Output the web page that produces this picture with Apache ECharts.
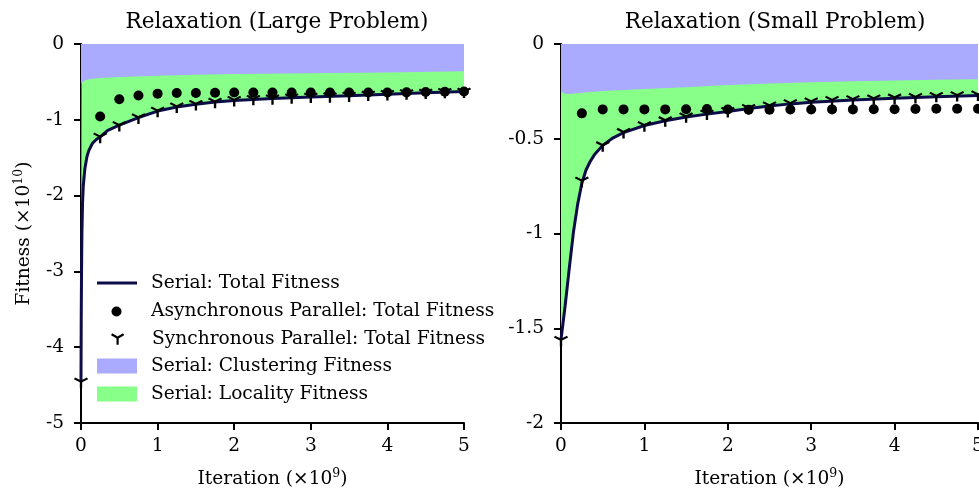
<!DOCTYPE html>
<html>
<head>
<meta charset="utf-8">
<script src="https://cdn.jsdelivr.net/npm/echarts@6/dist/echarts.min.js"></script>
<style>html,body{margin:0;padding:0;background:#fff}#c{width:979px;height:490px}</style>
</head>
<body>
<div id="c"></div>
<script>
// ---------- data ----------
const xTicks = [0, 1, 2, 3, 4, 5];
const stepX = [0.25,0.5,0.75,1.0,1.25,1.5,1.75,2.0,2.25,2.5,2.75,3.0,3.25,3.5,3.75,4.0,4.25,4.5,4.75,5.0];

// Large problem
const largeSerialX = [0,0.003,0.007,0.012,0.02,0.03,0.05,0.075,0.1,0.15,0.2,0.25,0.35,0.5,0.75,1.0,1.25,1.5,1.75,2.0,2.5,3.0,3.5,4.0,4.5,5.0];
const largeSerialY = [-4.45,-3.6,-3.0,-2.5,-2.1,-1.87,-1.65,-1.5,-1.41,-1.31,-1.26,-1.225,-1.14,-1.07,-0.97,-0.885,-0.83,-0.795,-0.765,-0.745,-0.72,-0.70,-0.683,-0.662,-0.643,-0.627];
const largeClusterX = [0,0.02,0.05,0.1,0.25,0.5,1.0,1.5,2.0,3.0,4.0,5.0];
const largeClusterY = [-0.52,-0.50,-0.48,-0.465,-0.45,-0.435,-0.42,-0.405,-0.395,-0.385,-0.375,-0.36];
const largeAsyncY = [-0.956,-0.73,-0.68,-0.655,-0.646,-0.646,-0.642,-0.64,-0.64,-0.64,-0.64,-0.64,-0.64,-0.64,-0.64,-0.64,-0.638,-0.633,-0.63,-0.627];
const largeSyncX = [0].concat(stepX);
const largeSyncY = [-4.45,-1.22,-1.066,-0.965,-0.876,-0.82,-0.787,-0.757,-0.735,-0.72,-0.713,-0.70,-0.69,-0.686,-0.677,-0.664,-0.655,-0.646,-0.637,-0.628,-0.624];

// Small problem
const smallSerialX = [0,0.025,0.05,0.075,0.1,0.15,0.2,0.25,0.3,0.35,0.4,0.5,0.625,0.75,1.0,1.25,1.5,1.75,2.0,2.25,2.5,2.75,3.0,3.5,4.0,4.5,5.0];
const smallSerialY = [-1.56,-1.47,-1.38,-1.28,-1.18,-0.99,-0.845,-0.735,-0.665,-0.62,-0.585,-0.535,-0.495,-0.468,-0.43,-0.405,-0.385,-0.37,-0.356,-0.34,-0.327,-0.316,-0.307,-0.295,-0.286,-0.279,-0.272];
const smallClusterX = [0,0.05,0.12,0.25,0.5,1.0,1.5,2.0,2.5,3.0,3.5,4.0,4.5,5.0];
const smallClusterY = [-0.252,-0.262,-0.264,-0.257,-0.248,-0.238,-0.228,-0.217,-0.208,-0.202,-0.197,-0.193,-0.189,-0.186];
const smallAsyncY = [-0.366,-0.345,-0.345,-0.345,-0.345,-0.344,-0.343,-0.346,-0.347,-0.347,-0.346,-0.346,-0.345,-0.345,-0.344,-0.344,-0.343,-0.342,-0.342,-0.342];
const smallSyncX = [0].concat(stepX);
const smallSyncY = [-1.56,-0.72,-0.533,-0.463,-0.427,-0.401,-0.38,-0.366,-0.352,-0.336,-0.323,-0.311,-0.302,-0.294,-0.289,-0.285,-0.281,-0.278,-0.272,-0.268,-0.265];

const names = {
  serial: 'Serial: Total Fitness',
  async: 'Asynchronous Parallel: Total Fitness',
  sync: 'Synchronous Parallel: Total Fitness',
  cluster: 'Serial: Clustering Fitness',
  locality: 'Serial: Locality Fitness'
};

// ---------- styles ----------
const FONT = 'DejaVu Serif';
const FS = 18.6;
const NAVY = '#0c0c48';
const BLUE = '#aaaaff';
const GREEN = '#88ff88';
const Y_PATH = 'path://M0,0 L0,10 M0,0 L-8.66,-5 M0,0 L8.66,-5';

function zip(xs, ys) { return xs.map((x, i) => [x, ys[i]]); }

const nameStyle = {
  fontFamily: FONT, fontSize: FS, color: '#000', lineHeight: 24,
  rich: { sup: { fontFamily: FONT, fontSize: 12.5, lineHeight: 12, verticalAlign: 'top', color: '#000' } }
};

function xAxisCfg(idx) {
  return {
    type: 'value', gridIndex: idx, min: 0, max: 5, interval: 1,
    name: 'Iteration (×10{sup|9})', nameLocation: 'middle', nameGap: 44,
    nameTextStyle: nameStyle,
    axisLine: { show: true, onZero: false, lineStyle: { color: '#000', width: 2 } },
    axisTick: { show: true, length: 7, lineStyle: { color: '#000', width: 2 } },
    axisLabel: { margin: 14, fontFamily: FONT, fontSize: FS, color: '#000' },
    splitLine: { show: false }
  };
}
function yAxisCfg(idx, min, interval, withName) {
  const cfg = {
    type: 'value', gridIndex: idx, min: min, max: 0, interval: interval,
    axisLine: { show: true, onZero: false, lineStyle: { color: '#000', width: 2 } },
    axisTick: { show: true, length: 7, lineStyle: { color: '#000', width: 2 } },
    axisLabel: { margin: 17, fontFamily: FONT, fontSize: FS, color: '#000' },
    splitLine: { show: false }
  };
  if (withName) {
    Object.assign(cfg, {
      name: 'Fitness (×10{sup|10})', nameLocation: 'middle', nameGap: 45, nameRotate: 90,
      nameTextStyle: nameStyle
    });
  }
  return cfg;
}

function panelSeries(idx, serial, cluster, asyncD, syncD) {
  return [
    { name: names.locality, type: 'line', xAxisIndex: idx, yAxisIndex: idx, data: serial,
      symbol: 'none', lineStyle: { width: 0 }, itemStyle: { color: GREEN },
      areaStyle: { color: GREEN, opacity: 1, origin: 'end' }, z: 1, clip: true, silent: true },
    { name: names.cluster, type: 'line', xAxisIndex: idx, yAxisIndex: idx, data: cluster,
      symbol: 'none', lineStyle: { width: 0 }, itemStyle: { color: BLUE },
      areaStyle: { color: BLUE, opacity: 1, origin: 'end' }, z: 2, clip: true, silent: true },
    { name: names.serial, type: 'line', xAxisIndex: idx, yAxisIndex: idx, data: serial,
      symbol: 'none', showSymbol: false, lineStyle: { color: NAVY, width: 3 },
      itemStyle: { color: NAVY }, z: 3, clip: false },
    { name: names.async, type: 'scatter', xAxisIndex: idx, yAxisIndex: idx, data: asyncD,
      symbol: 'circle', symbolSize: 10, itemStyle: { color: '#000', opacity: 1 }, z: 4, clip: false },
    { name: names.sync, type: 'scatter', xAxisIndex: idx, yAxisIndex: idx, data: syncD,
      symbol: Y_PATH, symbolSize: [13, 11.26], symbolKeepAspect: true, symbolOffset: [0, 1.88],
      itemStyle: { color: 'rgba(0,0,0,0)', borderColor: '#000', borderWidth: 2.2, opacity: 1 }, z: 5, clip: false }
  ];
}

function legendCfg(name, left, centerY, w, h, padLeft, itemStyle, icon) {
  return {
    data: [{ name: name, icon: icon, itemStyle: itemStyle }],
    left: left, top: centerY - 10, padding: 0,
    itemWidth: w, itemHeight: h, selectedMode: false,
    textStyle: { fontFamily: FONT, fontSize: FS, color: '#000', lineHeight: 20, padding: [0, 0, 0, padLeft] }
  };
}

const chart = echarts.init(document.getElementById('c'), null, { renderer: 'canvas' });
chart.setOption({
  backgroundColor: '#fff',
  animation: false,
  title: [
    { text: 'Relaxation (Large Problem)', left: 272, top: 6, textAlign: 'center',
      textStyle: { fontFamily: FONT, fontSize: 21.6, fontWeight: 'normal', color: '#000' } },
    { text: 'Relaxation (Small Problem)', left: 770, top: 6, textAlign: 'center',
      textStyle: { fontFamily: FONT, fontSize: 21.6, fontWeight: 'normal', color: '#000' } }
  ],
  grid: [
    { left: 81, top: 44, width: 383, height: 379, outerBoundsMode: 'none', containLabel: false },
    { left: 561, top: 44, width: 417, height: 379, outerBoundsMode: 'none', containLabel: false }
  ],
  xAxis: [xAxisCfg(0), xAxisCfg(1)],
  yAxis: [yAxisCfg(0, -5, 1, true), yAxisCfg(1, -2, 0.5, false)],
  legend: [
    legendCfg(names.serial, 97, 283, 40, 3, 9, { color: NAVY }, 'rect'),
    legendCfg(names.async, 111.5, 311.5, 10, 10, 24.5, { color: '#000' }, 'circle'),
    legendCfg(names.sync, 110.5, 339.5, 12, 10.4, 23.5, { color: 'rgba(0,0,0,0)', borderColor: '#000', borderWidth: 2.2 }, Y_PATH),
    legendCfg(names.cluster, 97, 366, 40, 15, 9, { color: BLUE }, 'rect'),
    legendCfg(names.locality, 97, 394, 40, 15, 9, { color: GREEN }, 'rect')
  ],
  series: [].concat(
    panelSeries(0, zip(largeSerialX, largeSerialY), zip(largeClusterX, largeClusterY),
      zip(stepX, largeAsyncY), zip(largeSyncX, largeSyncY)),
    panelSeries(1, zip(smallSerialX, smallSerialY), zip(smallClusterX, smallClusterY),
      zip(stepX, smallAsyncY), zip(smallSyncX, smallSyncY))
  )
});
</script>
</body>
</html>
